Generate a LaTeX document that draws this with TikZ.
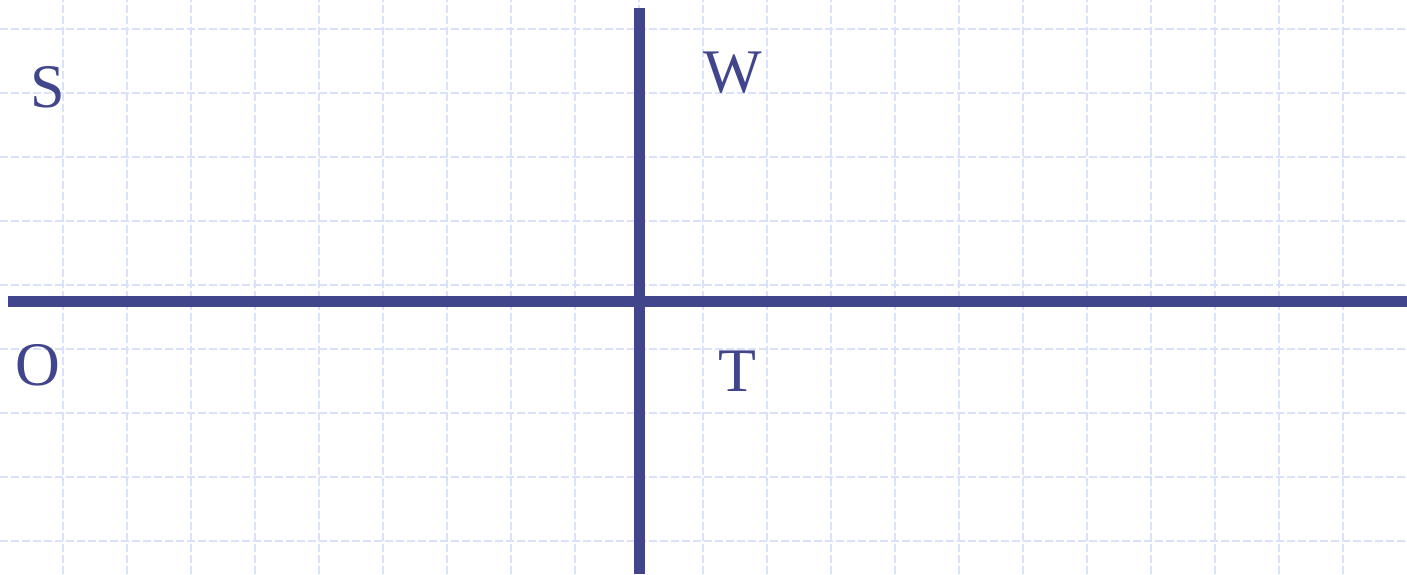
\documentclass[tikz,border=0pt]{standalone}
\usepackage{fontspec}
\setmainfont{Liberation Serif}
\usetikzlibrary{positioning}
\definecolor{AxisBlue}{HTML}{41468C}
\definecolor{GridBlue}{HTML}{D9E2F8}
\tikzset{gridline/.style={draw=GridBlue,line width=.8pt,dash pattern=on 4pt off 1.5pt},
 axis/.style={draw=AxisBlue,line width=5.5pt},
 quad/.style={text=AxisBlue,font=\fontsize{31}{31}\selectfont,inner sep=0pt}}

\begin{document}
\begin{tikzpicture}[x=.5pt,y=.5pt]
\useasboundingbox (0,0) rectangle (1407,574);
% grid
\foreach \x in {63,127,...,1343}
 {\draw[gridline] (\x,0)--(\x,574);}
\foreach \y in {33,97,...,545}
 {\draw[gridline] (0,\y)--(1407,\y);}
% axes
\coordinate (xl) at (8,273);\coordinate (xr) at (1407,273);
\coordinate (yt) at (639,566);\coordinate (yb) at (639,0);
\draw[axis] (xl)--(xr);
\draw[axis] (yt)--(yb);
% quadrant labels
\node[quad] (s) at (48,487){S};
\node[quad] (w) at (733,501){W};
\node[quad] (o) at (38,209){O};
\node[quad] (t) at (737,203){T};
\end{tikzpicture}
\end{document}
